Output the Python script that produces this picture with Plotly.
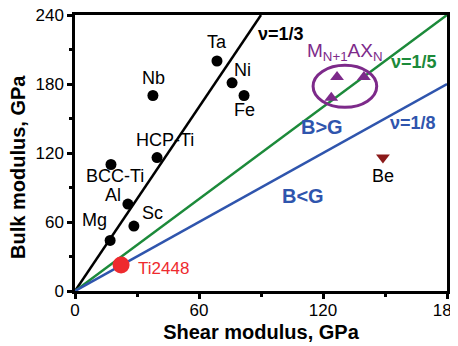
import plotly.graph_objects as go

# Data
names = ["Mg", "Al", "Sc", "BCC-Ti", "HCP-Ti", "Nb", "Ta", "Ni", "Fe"]
shear = [17, 25.6, 28.5, 17.4, 39.7, 37.7, 68.7, 76, 81.8]
bulk = [44, 75.6, 56.5, 110, 116, 170, 200, 181, 170]

max_shear = [126.8, 139.8, 124]
max_bulk = [186, 186, 168]

be_shear = [149]
be_bulk = [116]

ti_shear = [22.3]
ti_bulk = [22.6]

# reference lines (endpoints)
nu13_G = [0, 90]
nu13_B = [0, 240]
nu15_G = [0, 180]
nu15_B = [0, 240]
nu18_G = [0, 180]
nu18_B = [0, 180]

# label positions (data units)
lab_G = [9.5, 18.5, 37.5, 19.2, 43.5, 38, 68.5, 81, 82]
lab_B = [62, 83.5, 67.5, 100, 131, 185, 216.5, 192, 157]

FONT = "Arial, Liberation Sans, sans-serif"
BLACK = "#000000"
GREEN = "#1c8a3a"
BLUE = "#2f55ad"
PURPLE = "#7d2a8a"
DRED = "#8b1a1a"
RED = "#ee2a2e"

fig = go.Figure()
fig.add_trace(go.Scatter(x=nu13_G, y=nu13_B, mode="lines", line=dict(color=BLACK, width=2.5), showlegend=False))
fig.add_trace(go.Scatter(x=nu15_G, y=nu15_B, mode="lines", line=dict(color=GREEN, width=2.5), showlegend=False))
fig.add_trace(go.Scatter(x=nu18_G, y=nu18_B, mode="lines", line=dict(color=BLUE, width=2.5), showlegend=False))

fig.add_trace(go.Scatter(x=shear, y=bulk, mode="markers", marker=dict(color=BLACK, size=11), showlegend=False))
fig.add_trace(go.Scatter(x=max_shear, y=max_bulk, mode="markers",
                         marker=dict(color=PURPLE, size=12, symbol="triangle-up"), showlegend=False))
fig.add_trace(go.Scatter(x=be_shear, y=be_bulk, mode="markers",
                         marker=dict(color=DRED, size=12, symbol="triangle-down"), showlegend=False))
fig.add_trace(go.Scatter(x=ti_shear, y=ti_bulk, mode="markers",
                         marker=dict(color=RED, size=17), showlegend=False))

# ellipse around MAX phases
fig.add_shape(type="circle", xref="x", yref="y", x0=115.2, x1=146.0, y0=159.7, y1=196.3,
              line=dict(color=PURPLE, width=3))

annotations = []
for n, gx, by in zip(names, lab_G, lab_B):
    annotations.append(dict(x=gx, y=by, text=n, showarrow=False, xref="x", yref="y",
                            font=dict(family=FONT, size=18, color=BLACK)))
annotations.append(dict(x=149, y=100, text="Be", showarrow=False, xref="x", yref="y",
                        font=dict(family=FONT, size=18, color=BLACK)))
annotations.append(dict(x=43, y=20, text="Ti2448", showarrow=False, xref="x", yref="y",
                        font=dict(family=FONT, size=17, color=RED)))
annotations.append(dict(x=99.5, y=223.5, text="ν=1/3", showarrow=False, xref="x", yref="y",
                        font=dict(family=FONT, size=18, color=BLACK, weight="bold")))
annotations.append(dict(x=164, y=199, text="ν=1/5", showarrow=False, xref="x", yref="y",
                        font=dict(family=FONT, size=18, color=GREEN, weight="bold")))
annotations.append(dict(x=163.5, y=146, text="ν=1/8", showarrow=False, xref="x", yref="y",
                        font=dict(family=FONT, size=18, color=BLUE, weight="bold")))
annotations.append(dict(x=119.5, y=142.5, text="B>G", showarrow=False, xref="x", yref="y",
                        font=dict(family=FONT, size=20, color=BLUE, weight="bold")))
annotations.append(dict(x=110.5, y=82.5, text="B<G", showarrow=False, xref="x", yref="y",
                        font=dict(family=FONT, size=20, color=BLUE, weight="bold")))
annotations.append(dict(x=130.5, y=208, text="M<sub>N+1</sub>AX<sub>N</sub>", showarrow=False,
                        xref="x", yref="y", font=dict(family=FONT, size=19, color=PURPLE)))
# y-axis title
annotations.append(dict(x=-0.153, y=0.45, xref="paper", yref="paper", text="Bulk modulus, GPa",
                        textangle=-90, showarrow=False, xanchor="center", yanchor="middle",
                        font=dict(family=FONT, size=20, color=BLACK, weight="bold")))

axis_common = dict(showline=True, linewidth=2.5, linecolor=BLACK, mirror=True,
                   ticks="outside", ticklen=5, tickwidth=2.5, tickcolor=BLACK,
                   showgrid=False, zeroline=False, dtick=60, tick0=0, automargin=False,
                   ticklabeloverflow="allow",
                   tickfont=dict(family=FONT, size=17, color=BLACK),
                   minor=dict(ticks="outside", dtick=30, ticklen=3, tickwidth=2.5, tickcolor=BLACK, showgrid=False))

fig.update_layout(
    width=458, height=346,
    margin=dict(l=67, r=19, t=7, b=63),
    paper_bgcolor="white", plot_bgcolor="white",
    xaxis=dict(range=[0, 180], ticklabelstandoff=-3,
               title=dict(text="Shear modulus, GPa", standoff=6,
                          font=dict(family=FONT, size=20, color=BLACK, weight="bold")), **axis_common),
    yaxis=dict(range=[0, 240], **axis_common),
    annotations=annotations,
)

fig.write_html("out.html")
